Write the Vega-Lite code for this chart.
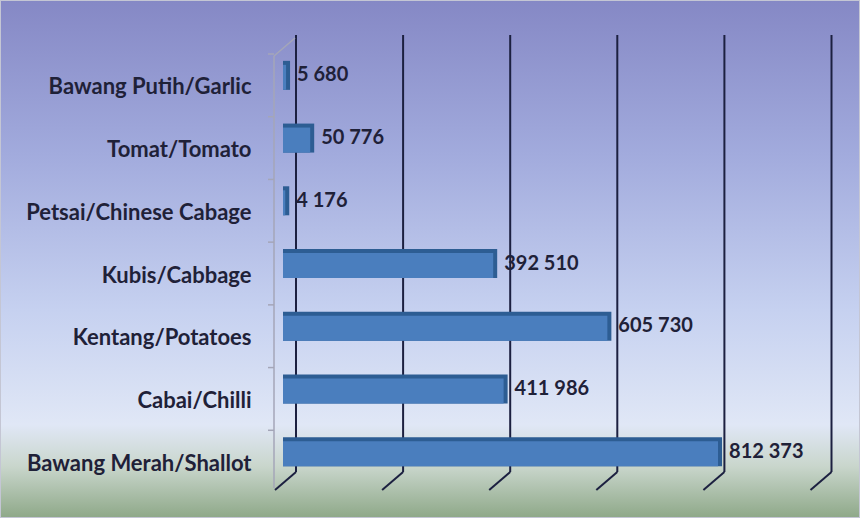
{
  "$schema": "https://vega.github.io/schema/vega-lite/v6.json",
  "width": 860,
  "height": 518,
  "padding": 0,
  "autosize": {"type": "none"},
  "config": {
    "locale": {"number": {"decimal": ",", "thousands": " ", "grouping": [3], "currency": ["", ""]}},
    "view": {"stroke": null}
  },
  "datasets": {
    "crops": [
      {"crop": "Bawang Putih/Garlic", "value": 5680},
      {"crop": "Tomat/Tomato", "value": 50776},
      {"crop": "Petsai/Chinese Cabage", "value": 4176},
      {"crop": "Kubis/Cabbage", "value": 392510},
      {"crop": "Kentang/Potatoes", "value": 605730},
      {"crop": "Cabai/Chilli", "value": 411986},
      {"crop": "Bawang Merah/Shallot", "value": 812373}
    ],
    "grid": [
      {"g": 0}, {"g": 200000}, {"g": 400000}, {"g": 600000}, {"g": 800000}, {"g": 1000000}
    ],
    "bg": [{"k": 1}]
  },
  "layer": [
    {
      "data": {"name": "bg"},
      "mark": {
        "type": "rect",
        "stroke": "#c4c6d4",
        "strokeWidth": 2,
        "color": {
          "gradient": "linear", "x1": 0, "y1": 0, "x2": 0, "y2": 1,
          "stops": [
            {"offset": 0, "color": "#8588c5"},
            {"offset": 0.3, "color": "#a2abdd"},
            {"offset": 0.6, "color": "#c6d1f0"},
            {"offset": 0.82, "color": "#e0e7f6"},
            {"offset": 0.9, "color": "#c9d6cc"},
            {"offset": 1, "color": "#8ea888"}
          ]
        }
      },
      "encoding": {}
    },
    {
      "data": {"name": "grid"},
      "mark": {"type": "rule", "color": "#1c2040", "strokeWidth": 2, "xOffset": 13, "yOffset": -9, "y2Offset": -11},
      "encoding": {
        "x": {"field": "g", "type": "quantitative", "scale": {"domain": [0, 1000000], "range": [283, 818.5], "nice": false, "zero": false}, "axis": null},
        "y": {"datum": "Bawang Putih/Garlic", "type": "nominal", "bandPosition": 0},
        "y2": {"datum": "Bawang Merah/Shallot", "bandPosition": 1}
      }
    },
    {
      "data": {"name": "grid"},
      "mark": {"type": "rule", "color": "#1c2040", "strokeWidth": 2, "xOffset": 13, "x2Offset": -8, "yOffset": -11, "y2Offset": 7},
      "encoding": {
        "x": {"field": "g", "type": "quantitative"},
        "x2": {"field": "g"},
        "y": {"datum": "Bawang Merah/Shallot", "type": "nominal", "bandPosition": 1},
        "y2": {"datum": "Bawang Merah/Shallot", "bandPosition": 1}
      }
    },
    {
      "data": {"name": "bg"},
      "mark": {"type": "rule", "color": "#a4a6b8", "strokeWidth": 1.5, "xOffset": -9, "yOffset": 12, "y2Offset": 5},
      "encoding": {
        "x": {"datum": 0, "type": "quantitative"},
        "y": {"datum": "Bawang Putih/Garlic", "type": "nominal", "bandPosition": 0},
        "y2": {"datum": "Bawang Merah/Shallot", "bandPosition": 1}
      }
    },
    {
      "data": {"name": "bg"},
      "mark": {"type": "rule", "color": "#a4a6b8", "strokeWidth": 1.5, "xOffset": -9, "x2Offset": 12, "yOffset": 12, "y2Offset": -6},
      "encoding": {
        "x": {"datum": 0, "type": "quantitative"},
        "x2": {"datum": 0},
        "y": {"datum": "Bawang Putih/Garlic", "type": "nominal", "bandPosition": 0},
        "y2": {"datum": "Bawang Putih/Garlic", "bandPosition": 0}
      }
    },
    {
      "data": {"name": "crops"},
      "mark": {"type": "rule", "color": "#a4a6b8", "strokeWidth": 1.5, "xOffset": -15, "x2Offset": -9, "yOffset": 10, "y2Offset": 10},
      "encoding": {
        "x": {"datum": 0, "type": "quantitative"},
        "x2": {"datum": 0},
        "y": {"field": "crop", "type": "nominal", "bandPosition": 0},
        "y2": {"field": "crop", "bandPosition": 0}
      }
    },
    {
      "data": {"name": "crops"},
      "mark": {"type": "bar", "size": 29, "color": "#2d5d93", "xOffset": 4},
      "encoding": {
        "y": {
          "field": "crop", "type": "nominal", "sort": null,
          "scale": {"domain": ["Bawang Putih/Garlic", "Tomat/Tomato", "Petsai/Chinese Cabage", "Kubis/Cabbage", "Kentang/Potatoes", "Cabai/Chilli", "Bawang Merah/Shallot"], "range": [44, 483], "paddingInner": 0, "paddingOuter": 0},
          "axis": {
            "orient": "left", "offset": -283, "domain": false, "ticks": false, "tickSize": 0, "zindex": 1,
            "labelPadding": 32, "labelOffset": 12, "title": null,
            "labelFont": "Lato", "labelFontWeight": "bold", "labelFontSize": 22, "labelColor": "#1f2138",
            "labelLimit": 400
          }
        },
        "x": {"field": "value", "type": "quantitative"},
        "x2": {"datum": 0}
      }
    },
    {
      "data": {"name": "crops"},
      "mark": {"type": "bar", "size": 25, "color": "#4a7ebe", "yOffset": 2},
      "encoding": {
        "y": {"field": "crop", "type": "nominal", "sort": null},
        "x": {"field": "value", "type": "quantitative"},
        "x2": {"datum": 0}
      }
    },
    {
      "data": {"name": "crops"},
      "mark": {"type": "text", "align": "left", "baseline": "middle", "dx": 11, "font": "Lato", "fontWeight": "bold", "fontSize": 20, "color": "#1f2138"},
      "encoding": {
        "y": {"field": "crop", "type": "nominal", "sort": null},
        "x": {"field": "value", "type": "quantitative"},
        "text": {"field": "value", "type": "quantitative", "format": ","}
      }
    }
  ]
}
